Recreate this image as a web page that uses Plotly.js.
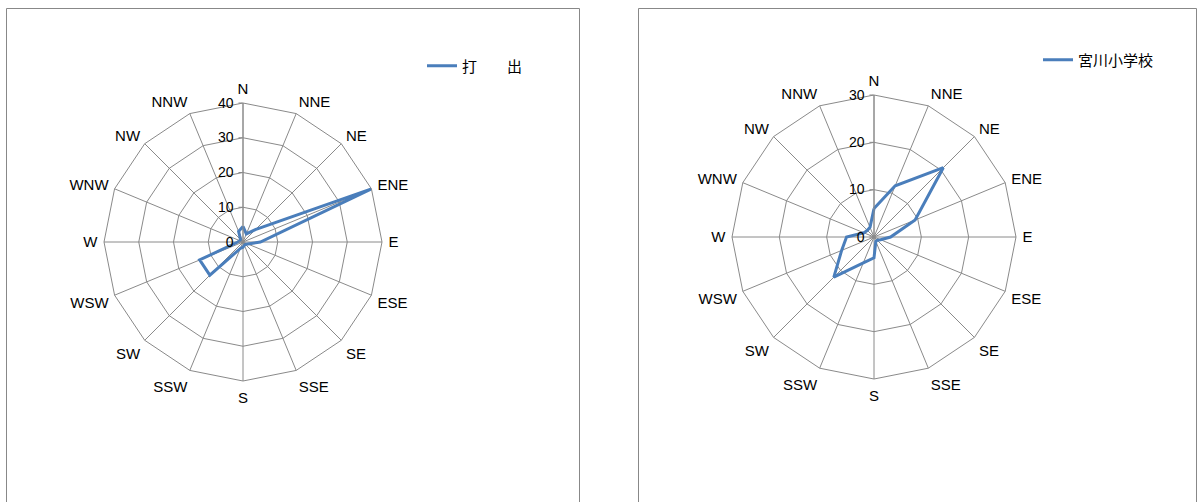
<!DOCTYPE html>
<html>
<head>
<meta charset="utf-8">
<script src="https://cdn.plot.ly/plotly-3.0.1.min.js"></script>
<style>html,body{margin:0;padding:0;background:#fff;}#chart{width:1200px;height:502px;}</style>
</head>
<body>
<div id="chart"></div>
<script>
// Wind directions (categories)
const directions = ["N","NNE","NE","ENE","E","ESE","SE","SSE","S","SSW","SW","WSW","W","WNW","NW","NNW"];
// Series 1: 打出
const name1 = "打　　出";
const values1 = [4.5, 2.5, 5, 40, 5, 1.5, 1, 1, 1.5, 2, 13.5, 13.5, 1.5, 1, 1, 3.3];
// Series 2: 宮川小学校
const name2 = "宮川小学校";
const values2 = [6, 11.7, 20.7, 9.4, 3.5, 1.5, 1, 1, 4.4, 5.9, 12, 7.4, 5.8, 2.3, 2, 2.2];
const radialTicks1 = [0, 10, 20, 30, 40];
const radialTicks2 = [0, 10, 20, 30];

const W = 1200, H = 502;
const px = x => x / W;
const py = y => 1 - y / H;

function closed(arr){ return arr.concat([arr[0]]); }

const lineColor = "#4a7ebb";
const gridColor = "#8a8a8a";
const fontMain = "Liberation Sans, Arial, sans-serif";
const fontCJK = "Noto Sans CJK JP, sans-serif";

const traces = [
  {type:"scatterpolar", mode:"lines", name:name1, r:closed(values1), theta:closed(directions),
   subplot:"polar", legend:"legend", line:{color:lineColor, width:3}},
  {type:"scatterpolar", mode:"lines", name:name2, r:closed(values2), theta:closed(directions),
   subplot:"polar2", legend:"legend2", line:{color:lineColor, width:3}}
];

function polarCfg(cx, cy, R, maxR, ticks){
  return {
    domain:{x:[px(cx-R), px(cx+R)], y:[py(cy+R), py(cy-R)]},
    gridshape:"linear",
    bgcolor:"rgba(0,0,0,0)",
    angularaxis:{type:"category", categoryarray:directions, categoryorder:"array",
      rotation:90, direction:"clockwise", showline:true, linecolor:gridColor, linewidth:1,
      gridcolor:gridColor, gridwidth:1, ticks:"outside", ticklen:3, tickcolor:"rgba(0,0,0,0)",
      tickfont:{family:fontMain, size:15, color:"#000"}},
    radialaxis:{range:[0,maxR], tickvals:ticks, angle:90, showline:true, linecolor:gridColor,
      gridcolor:gridColor, gridwidth:1, ticks:"outside", ticklen:4, tickcolor:gridColor,
      side:"counterclockwise", tickangle:90,
      tickfont:{family:fontMain, size:14, color:"#000"}}
  };
}

const layout = {
  width:W, height:H,
  margin:{l:0, r:0, t:0, b:0},
  paper_bgcolor:"#fff",
  showlegend:true,
  polar: polarCfg(243, 242, 139, 40, radialTicks1),
  polar2: polarCfg(874, 237, 142, 30, radialTicks2),
  legend:{x:px(422), y:py(66), xanchor:"left", yanchor:"middle", bgcolor:"rgba(0,0,0,0)",
    font:{family:fontCJK, size:15, color:"#000"}},
  legend2:{x:px(1038), y:py(60), xanchor:"left", yanchor:"middle", bgcolor:"rgba(0,0,0,0)",
    font:{family:fontCJK, size:15, color:"#000"}},
  shapes:[
    {type:"rect", xref:"paper", yref:"paper", x0:px(6.5), x1:px(579.5), y0:py(560), y1:py(8.5),
      line:{color:"#888", width:1}},
    {type:"rect", xref:"paper", yref:"paper", x0:px(638.5), x1:px(1196.5), y0:py(560), y1:py(8.5),
      line:{color:"#888", width:1}}
  ]
};

Plotly.newPlot("chart", traces, layout, {staticPlot:true, displayModeBar:false});
</script>
</body>
</html>
